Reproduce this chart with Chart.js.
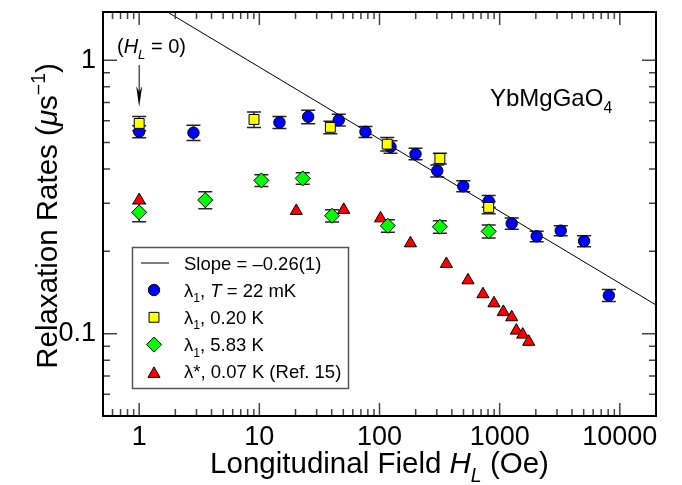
<!DOCTYPE html>
<html>
<head>
<meta charset="utf-8">
<script src="https://cdn.jsdelivr.net/npm/chart.js@4.4.1/dist/chart.umd.min.js"></script>
<style>
  html, body { margin: 0; padding: 0; background: #ffffff; }
  canvas { display: block; }
</style>
</head>
<body>
<canvas id="relax" width="682" height="485"></canvas>
<script>
// axis tick labels
const fieldTicks = [1, 10, 100, 1000, 10000];
const rateTicks = [0.1, 1];

// fitted power law, slope = -0.26(1)
const slopeField = [1.72, 20000];
const slopeRate = [1.5, 0.1273];

// lambda_1, T = 22 mK
const field22mK = [1, 2.83, 14.7, 25.5, 45.8, 76.4, 123.5, 199.5, 302.6, 498, 810, 1259, 2033, 3223, 5040, 8100];
const rate22mK = [0.548, 0.543, 0.592, 0.621, 0.604, 0.547, 0.482, 0.454, 0.394, 0.346, 0.305, 0.253, 0.227, 0.238, 0.218, 0.138];
const err22mK = [0.028, 0.035, 0.03, 0.035, 0.03, 0.025, 0.025, 0.022, 0.02, 0.016, 0.015, 0.012, 0.01, 0.01, 0.01, 0.007];

// lambda_1, 0.20 K
const field020K = [1, 9.03, 39, 115.9, 318, 810];
const rate020K = [0.587, 0.607, 0.568, 0.493, 0.437, 0.2895];
const err020K = [0.035, 0.04, 0.03, 0.028, 0.02, 0.015];

// lambda_1, 5.83 K
const field583K = [1, 3.55, 10.4, 22.96, 40.3, 117.3, 318, 810];
const rate583K = [0.2777, 0.308, 0.3634, 0.3696, 0.2699, 0.248, 0.246, 0.2366];
const err583K = [0.021, 0.022, 0.018, 0.018, 0.014, 0.013, 0.013, 0.013];

// lambda*, 0.07 K (Ref. 15)
const fieldRef15 = [1, 20.3, 50.4, 102, 181, 360, 545, 726, 897, 1073, 1259, 1377, 1555, 1745];
const rateRef15 = [0.308, 0.281, 0.2836, 0.264, 0.214, 0.1798, 0.1567, 0.1394, 0.1291, 0.1201, 0.1148, 0.1026, 0.0992, 0.0934];

const BLUE = '#0000ff', YELLOW = '#ffff00', GREEN = '#00ff00', RED = '#ff0000';
const FONT = '"Liberation Sans", Arial, Helvetica, sans-serif';

function pts(xs, ys) {
    return xs.map((x, i) => ({ x: x, y: ys[i] }));
}

// draw a list of text runs: [text, flags] where flags may hold it (italic), sub, sup
function drawRuns(ctx, runs, x, y, size, align) {
    const parts = runs.map(([t, f]) => {
        f = f || '';
        const small = f.indexOf('sub') >= 0 || f.indexOf('sup') >= 0;
        const fs = small ? size * 0.66 : size;
        const font = (f.indexOf('it') >= 0 ? 'italic ' : '') + fs + 'px ' + FONT;
        ctx.font = font;
        let dy = 0;
        if (f.indexOf('sub') >= 0) dy = size * 0.3;
        if (f.indexOf('sup') >= 0) dy = -size * 0.42;
        return { t, font, dy, w: ctx.measureText(t).width };
    });
    const total = parts.reduce((a, p) => a + p.w, 0);
    let cx = x;
    if (align === 'center') cx = x - total / 2;
    if (align === 'right') cx = x - total;
    ctx.textAlign = 'left';
    ctx.textBaseline = 'alphabetic';
    parts.forEach(p => {
        ctx.font = p.font;
        ctx.fillText(p.t, cx, y + p.dy);
        cx += p.w;
    });
}

function marker(ctx, style, color, x, y, r) {
    ctx.save();
    ctx.fillStyle = color;
    ctx.strokeStyle = '#000';
    ctx.lineWidth = 1;
    ctx.beginPath();
    if (style === 'circle') {
        ctx.arc(x, y, r, 0, Math.PI * 2);
    } else if (style === 'rect') {
        const s = r * Math.SQRT1_2;
        ctx.rect(x - s, y - s, 2 * s, 2 * s);
    } else if (style === 'rectRot') {
        ctx.moveTo(x - r, y); ctx.lineTo(x, y - r); ctx.lineTo(x + r, y); ctx.lineTo(x, y + r);
        ctx.closePath();
    } else {
        ctx.moveTo(x, y - r);
        ctx.lineTo(x + r * Math.sin(2 * Math.PI / 3), y - r * Math.cos(2 * Math.PI / 3));
        ctx.lineTo(x + r * Math.sin(4 * Math.PI / 3), y - r * Math.cos(4 * Math.PI / 3));
        ctx.closePath();
    }
    ctx.fill();
    ctx.stroke();
    ctx.restore();
}

const errorBars = {
    id: 'errorBars',
    beforeDatasetsDraw(chart) {
        const { ctx, scales: { x, y } } = chart;
        ctx.save();
        ctx.strokeStyle = '#222';
        ctx.lineWidth = 1.5;
        chart.data.datasets.forEach(ds => {
            if (!ds.errors) return;
            ds.data.forEach((p, i) => {
                const e = ds.errors[i];
                const px = x.getPixelForValue(p.x);
                const top = y.getPixelForValue(p.y + e);
                const bot = y.getPixelForValue(p.y - e);
                ctx.beginPath();
                ctx.moveTo(px, top); ctx.lineTo(px, bot);
                ctx.moveTo(px - 7, top); ctx.lineTo(px + 7, top);
                ctx.moveTo(px - 7, bot); ctx.lineTo(px + 7, bot);
                ctx.stroke();
            });
        });
        ctx.restore();
    }
};

function logSteps(min, max) {
    const out = [];
    for (let k = -3; k <= 5; k++) {
        for (let m = 1; m <= 9; m++) {
            const v = parseFloat((m * Math.pow(10, k)).toPrecision(6));
            if (v >= min * 0.999 && v <= max * 1.001) out.push({ v, major: m === 1 });
        }
    }
    return out;
}

const frame = {
    id: 'frame',
    afterDraw(chart) {
        const { ctx, chartArea: a, scales: { x, y } } = chart;
        ctx.save();

        // inside ticks on all four sides
        ctx.strokeStyle = '#444';
        ctx.lineWidth = 1.5;
        ctx.beginPath();
        logSteps(x.min, x.max).forEach(t => {
            const px = x.getPixelForValue(t.v);
            const len = t.major ? 13 : 7;
            ctx.moveTo(px, a.bottom); ctx.lineTo(px, a.bottom - len);
            ctx.moveTo(px, a.top); ctx.lineTo(px, a.top + len);
        });
        logSteps(y.min, y.max).forEach(t => {
            const py = y.getPixelForValue(t.v);
            const len = t.major ? 14 : 7;
            ctx.moveTo(a.left, py); ctx.lineTo(a.left + len, py);
            ctx.moveTo(a.right, py); ctx.lineTo(a.right - len, py);
        });
        ctx.stroke();

        ctx.strokeStyle = '#000';
        ctx.lineWidth = 2;
        ctx.strokeRect(a.left, a.top, a.right - a.left, a.bottom - a.top);

        // tick labels
        ctx.fillStyle = '#000';
        ctx.font = '27px ' + FONT;
        ctx.textAlign = 'center';
        ctx.textBaseline = 'middle';
        fieldTicks.forEach(v => ctx.fillText(String(v), x.getPixelForValue(v), a.bottom + 22));
        ctx.textAlign = 'right';
        rateTicks.forEach(v => ctx.fillText(String(v), a.left - 7, y.getPixelForValue(v)));

        // axis titles
        drawRuns(ctx, [['Longitudinal Field '], ['H', 'it'], ['L', 'it sub'], [' (Oe)']],
            (a.left + a.right) / 2, a.bottom + 57, 29.5, 'center');
        ctx.save();
        ctx.translate(57, (a.top + a.bottom) / 2 + 2);
        ctx.rotate(-Math.PI / 2);
        drawRuns(ctx, [['Relaxation Rates ('], ['\u03bc', 'it'], ['s'], ['\u22121', 'sup'], [')']], 0, 0, 29.5, 'center');
        ctx.restore();

        // annotations
        drawRuns(ctx, [['YbMgGaO'], ['4', 'sub']], 490, 106, 24, 'left');
        drawRuns(ctx, [['('], ['H', 'it'], ['L', 'it sub'], [' = 0)']], 117, 53, 20, 'left');
        const ax = x.getPixelForValue(1);
        ctx.strokeStyle = '#000';
        ctx.lineWidth = 1;
        ctx.beginPath();
        ctx.moveTo(ax, 65); ctx.lineTo(ax, 100);
        ctx.stroke();
        ctx.beginPath();
        ctx.moveTo(ax - 3, 86); ctx.lineTo(ax, 107); ctx.lineTo(ax + 3, 86); ctx.lineTo(ax, 92);
        ctx.closePath();
        ctx.fill();

        // legend
        ctx.fillStyle = '#fff';
        ctx.fillRect(132, 247, 217, 142);
        ctx.strokeStyle = '#555';
        ctx.lineWidth = 1.5;
        ctx.strokeRect(132.5, 247.5, 216, 141);
        ctx.strokeStyle = '#000';
        ctx.lineWidth = 1;
        ctx.beginPath();
        ctx.moveTo(141, 263); ctx.lineTo(169, 263);
        ctx.stroke();
        ctx.fillStyle = '#000';
        drawRuns(ctx, [['Slope = \u20130.26(1)']], 184, 263 + 6.5, 18.5, 'left');
        const rows = [
            ['circle', BLUE, 5.7, [['\u03bb'], ['1', 'sub'], [', '], ['T', 'it'], [' = 22 mK']]],
            ['rect', YELLOW, 7, [['\u03bb'], ['1', 'sub'], [', 0.20 K']]],
            ['rectRot', GREEN, 7.5, [['\u03bb'], ['1', 'sub'], [', 5.83 K']]],
            ['triangle', RED, 7, [['\u03bb*, 0.07 K (Ref. 15)']]]
        ];
        rows.forEach((r, i) => {
            const cy = 290 + i * 27.3;
            marker(ctx, r[0], r[1], 154, cy + (r[0] === 'triangle' ? 2 : 0), r[2]);
            ctx.fillStyle = '#000';
            drawRuns(ctx, r[3], 184, cy + 6.5, 18.5, 'left');
        });

        ctx.restore();
    }
};

const ctx = document.getElementById('relax').getContext('2d');

new Chart(ctx, {
    type: 'scatter',
    data: {
        datasets: [
            {
                type: 'line',
                data: pts(slopeField, slopeRate),
                borderColor: '#000',
                borderWidth: 1,
                pointRadius: 0,
                fill: false,
                order: 6
            },
            {
                data: pts(fieldRef15, rateRef15),
                pointStyle: 'triangle',
                pointRadius: 7,
                backgroundColor: RED,
                borderColor: '#000',
                borderWidth: 1,
                order: 5
            },
            {
                data: pts(field22mK, rate22mK),
                errors: err22mK,
                pointStyle: 'circle',
                pointRadius: 5.7,
                backgroundColor: BLUE,
                borderColor: '#000',
                borderWidth: 1,
                order: 4
            },
            {
                data: pts(field020K, rate020K),
                errors: err020K,
                pointStyle: 'rect',
                pointRadius: 7,
                backgroundColor: YELLOW,
                borderColor: '#000',
                borderWidth: 1,
                order: 3
            },
            {
                data: pts(field583K, rate583K),
                errors: err583K,
                pointStyle: 'rectRot',
                pointRadius: 7.5,
                backgroundColor: GREEN,
                borderColor: '#000',
                borderWidth: 1,
                order: 2
            }
        ]
    },
    options: {
        responsive: false,
        animation: false,
        devicePixelRatio: 1,
        layout: {
            padding: { left: 103, right: 26, top: 12, bottom: 69 }
        },
        plugins: {
            legend: { display: false },
            tooltip: { enabled: false }
        },
        scales: {
            x: { type: 'logarithmic', min: 0.5, max: 20000, display: false },
            y: { type: 'logarithmic', min: 0.05, max: 1.5, display: false }
        }
    },
    plugins: [errorBars, frame]
});
</script>
</body>
</html>
